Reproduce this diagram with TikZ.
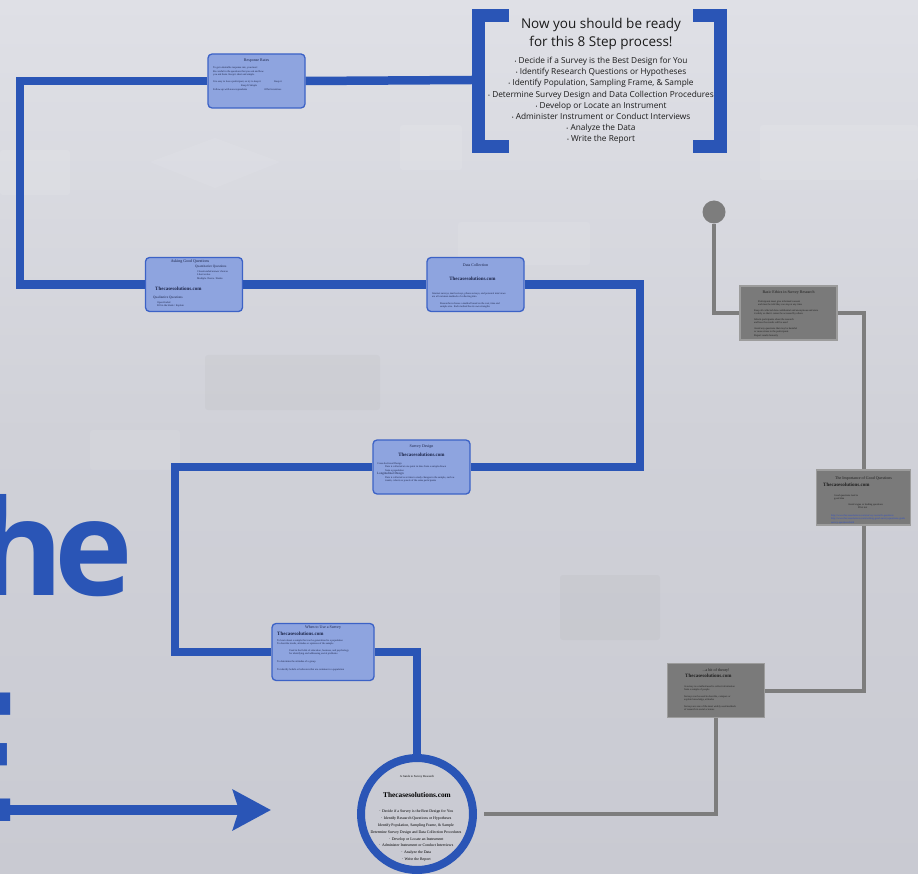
\documentclass[tikz,border=0pt]{standalone}
\usepackage{fontspec}
\setmainfont{Open Sans}
\newfontfamily\bxf{Liberation Serif}
\usetikzlibrary{arrows.meta,backgrounds}
\definecolor{pblue}{HTML}{2A55B6}
\definecolor{bfill}{HTML}{8EA4DF}
\definecolor{bedge}{HTML}{3C62C6}
\definecolor{gline}{HTML}{7D7D7D}
\definecolor{gfill}{HTML}{7A7A7A}
\definecolor{gedge}{HTML}{9C9C9C}
\definecolor{btext}{HTML}{1B2448}
\definecolor{gtext}{HTML}{1E1E1E}
\definecolor{glink}{HTML}{2F4FC8}
\definecolor{bgtop}{HTML}{DFE0E6}
\definecolor{bgmid}{HTML}{D0D1D8}
\definecolor{bgbot}{HTML}{C9CAD2}
\definecolor{steptext}{HTML}{1A1A1A}
\begin{document}
\begin{tikzpicture}[x=1pt,y=-1pt,
  bbox/.style={draw=bedge, line width=1.3pt, fill=bfill, rounded corners=4pt,
    minimum width=97pt, minimum height=54pt, inner sep=0pt},
  gbox/.style={draw=gedge, line width=1.2pt, fill=gfill,
    minimum width=97pt, minimum height=54pt, inner sep=0pt},
  ttl/.style={font=\bxf\fontsize{4}{4.5}\selectfont, text=btext, inner sep=0pt},
  tinytxt/.style={font=\bxf\fontsize{2.6}{3.5}\selectfont, text=btext, inner sep=0pt, align=left},
  sitetxt/.style={font=\bxf\bfseries\fontsize{5}{6}\selectfont, text=btext, inner sep=0pt},
  gttl/.style={ttl, text=gtext},
  gtiny/.style={tinytxt, text=gtext},
  gsite/.style={sitetxt, text=gtext},
  bpath/.style={draw=pblue, line width=8.5pt},
  gpath/.style={draw=gline, line width=4pt},
]
\useasboundingbox (0,0) rectangle (918,874);
\clip (0,0) rectangle (918,874);

% background
\begin{scope}[on background layer]
\shade[top color=bgtop, bottom color=bgbot, middle color=bgmid] (0,0) rectangle (918,874);
\fill[white, opacity=0.09, rounded corners=3pt] (0,150) rectangle (70,195);
\fill[white, opacity=0.09, rounded corners=3pt] (400,125) rectangle (462,170);
\fill[white, opacity=0.09, rounded corners=3pt] (760,125) rectangle (918,180);
\fill[white, opacity=0.08, rounded corners=3pt] (458,222) rectangle (590,265);
\fill[white, opacity=0.08] (215,138) -- (280,162) -- (215,188) -- (150,162) -- cycle;
\fill[black, opacity=0.025, rounded corners=3pt] (205,355) rectangle (380,410);
\fill[black, opacity=0.025, rounded corners=3pt] (560,575) rectangle (660,640);
\fill[white, opacity=0.07, rounded corners=3pt] (90,430) rectangle (180,470);
\end{scope}

% big partial title text
\node[anchor=base west, inner sep=0pt, text=pblue, font=\bfseries\fontsize{133}{133}\selectfont] (bigword) at (-24,595) {h\kern-9pt e};
\node[anchor=base east, inner sep=0pt, text=pblue, font=\bfseries\fontsize{180}{180}\selectfont] (bigletter) at (22,821) {E};

% arrow
\coordinate (arrS) at (-5,810);
\coordinate (arrE) at (271,810);
\draw[pblue, line width=10pt, -{Stealth[length=38pt,width=40pt,inset=6pt]}] (arrS) -- (arrE);

% bracket with steps
\draw[pblue, line width=13pt] (509,15.5) -- (478.5,15.5) -- (478.5,146.5) -- (509,146.5);
\draw[pblue, line width=13pt] (693,15.5) -- (720,15.5) -- (720,146.5) -- (693,146.5);
\coordinate (brk) at (472,80);
\node[align=center, inner sep=0pt, text=steptext, font=\fontsize{13.5}{18}\selectfont] (stT) at (601,34) {Now you should be ready\\for this 8 Step process!};
\node[align=center, inner sep=0pt, text=steptext, font=\fontsize{8.3}{11.15}\selectfont] (stL) at (601,100.5) {%
{\fontsize{5}{5}\selectfont•} Decide if a Survey is the Best Design for You\\
{\fontsize{5}{5}\selectfont•} Identify Research Questions or Hypotheses\\
{\fontsize{5}{5}\selectfont•} Identify Population, Sampling Frame, \& Sample\\
{\fontsize{5}{5}\selectfont•} Determine Survey Design and Data Collection Procedures\\
{\fontsize{5}{5}\selectfont•} Develop or Locate an Instrument\\
{\fontsize{5}{5}\selectfont•} Administer Instrument or Conduct Interviews\\
{\fontsize{5}{5}\selectfont•} Analyze the Data\\
{\fontsize{5}{5}\selectfont•} Write the Report};

% blue boxes
\node[bbox] (rr) at (256.5,81) {};
\node[ttl, anchor=north] (rrT) at ([yshift=-5pt]rr.north) {Response Rates};
\node[tinytxt, anchor=north west] (rrB) at (213,66) {%
To get a desirable response rate, you must:\\[1pt]
Be careful in the questions that you ask and how\\
you ask them. Keep it short and simple.\\[3pt]
It is easy to lose a participant, so try to keep it \hspace{12pt} Keep it\\
\hspace{28pt}Keep It Simple\\[1pt]
Follow-up with non-respondents \hspace{16pt} Offer Incentives};

\node[bbox] (agq) at (194,284.5) {};
\node[ttl, anchor=north] (agqT) at ([xshift=-4pt,yshift=-3pt]agq.north) {Asking Good Questions};
\node[tinytxt, anchor=north west, font=\bxf\fontsize{3.4}{4}\selectfont] (agqQ) at (195,265) {Quantitative Questions};
\node[tinytxt, anchor=north west] (agqQB) at (197,270) {Closed-ended answer choices\\Likert scales\\Multiple Choice / Ranks};
\node[sitetxt, anchor=west] (agqS) at (155,289) {Thecasesolutions.com};
\node[tinytxt, anchor=north west, font=\bxf\fontsize{3.4}{4}\selectfont] (agqL) at (153,296) {Qualitative Questions};
\node[tinytxt, anchor=north west] (agqLB) at (157,301) {Open-Ended\\Fill in the blank / Explain};

\node[bbox] (dc) at (475.5,284.5) {};
\node[ttl, anchor=north] (dcT) at ([yshift=-7pt]dc.north) {Data Collection};
\node[sitetxt, anchor=north] (dcS) at ([xshift=-3pt,yshift=-20pt]dc.north) {Thecasesolutions.com};
\node[tinytxt, anchor=north west] (dcB) at (432,292) {%
Internet surveys, mail surveys, phone surveys, and personal interviews\\
are all common methods of collecting data\\[3pt]
\hspace{8pt}Researchers choose a method based on the cost, time and\\
\hspace{8pt}sample size. Each method has its own strengths};

\node[bbox] (sd) at (421.5,467) {};
\node[ttl, anchor=north] (sdT) at ([yshift=-5pt]sd.north) {Survey Design};
\node[sitetxt, anchor=north] (sdS) at ([yshift=-13pt]sd.north) {Thecasesolutions.com};
\node[tinytxt, anchor=north west] (sdB) at (377,462) {%
Cross-Sectional Design\\
\hspace{8pt}Data is collected at one point in time from a sample drawn\\
\hspace{8pt}from a population\\
{\fontsize{3.2}{4}\selectfont Longitudinal Design}\\
\hspace{8pt}Data is collected over time to study changes in the sample, such as\\
\hspace{8pt}trends, cohorts or panels of the same participants};

\node[bbox, minimum width=102pt, minimum height=57pt] (wus) at (323,652) {};
\node[ttl, anchor=north] (wusT) at ([yshift=-3pt]wus.north) {When to Use a Survey};
\node[sitetxt, anchor=north west] (wusS) at (277,632) {Thecasesolutions.com};
\node[tinytxt, anchor=north west] (wusB) at (277,639) {%
To learn about a sample that can be generalized to a population\\
To describe trends, attitudes or opinions of the sample\\[3pt]
\hspace{12pt}Used in the fields of education, business, and psychology\\
\hspace{12pt}for identifying and addressing social problems\\[4pt]
To determine the attitudes of a group\\[5pt]
To identify beliefs or behaviors that are common in a population};

% circle
\node[circle, draw=pblue, line width=8pt, minimum size=112pt, inner sep=0pt] (circ) at (417,814) {};
\node[tinytxt, font=\bxf\fontsize{3}{4}\selectfont, text=black, anchor=center] (circT) at (417,777) {A Guide to Survey Research};
\node[sitetxt, font=\bxf\bfseries\fontsize{7.3}{8}\selectfont, text=black, anchor=center] (circS) at (417,795) {Thecasesolutions.com};
\node[align=center, inner sep=0pt, text=black, font=\bxf\fontsize{3.9}{6.8}\selectfont, anchor=north] (circL) at (416,810) {%
$\cdot$ Decide if a Survey is the Best Design for You\\
$\cdot$ Identify Research Questions or Hypotheses\\
Identify Population, Sampling Frame, \& Sample\\
Determine Survey Design and Data Collection Procedures\\
$\cdot$ Develop or Locate an Instrument\\
$\cdot$ Administer Instrument or Conduct Interviews\\
$\cdot$ Analyze the Data\\
$\cdot$ Write the Report};

% gray boxes
\node[circle, fill=gline, minimum size=23pt, inner sep=0pt] (dot) at (714,212) {};
\node[gbox] (g1) at (788.5,313) {};
\node[gttl, anchor=north] (g1T) at ([yshift=-5pt]g1.north) {Basic Ethics in Survey Research};
\node[gtiny, anchor=north west] (g1B) at (754,300) {%
\hspace{4pt}Participants must give informed consent\\
\hspace{4pt}and must be told they can stop at any time\\[2pt]
Keep all collected data confidential and anonymous and store\\
it safely so that it cannot be accessed by others\\[2pt]
Inform participants about the research\\
and how the results will be used\\[2pt]
Avoid any questions that may be harmful\\
or cause stress to the participants\\
Report results honestly};

\node[gbox, minimum width=94pt, minimum height=55pt] (g2) at (863.5,497.5) {};
\node[gttl, anchor=north] (g2T) at ([yshift=-7pt]g2.north) {The Importance of Good Questions};
\node[gsite, anchor=north west] (g2S) at (823,483) {Thecasesolutions.com};
\node[gtiny, anchor=north west] (g2B) at (834,494) {%
Good questions lead to\\
good data\\[2pt]
\hspace{14pt}Avoid vague or leading questions\\
\hspace{24pt}Pilot test};
\node[gtiny, text=glink, anchor=north west] (g2L) at (831,514) {%
http://www.thecasesolutions.com/survey-research-questions\\
http://www.thecasesolutions.com/writing-good-survey-questions-guide\\
survey-questions.html};

\node[gbox] (g3) at (716,690.5) {};
\node[gttl, anchor=north] (g3T) at ([yshift=-6pt]g3.north) {...a bit of theory!};
\node[gsite, anchor=north west] (g3S) at (685,674) {Thecasesolutions.com};
\node[gtiny, anchor=north west] (g3B) at (684,685) {%
A survey is a method used to collect information\\
from a sample of people\\[3pt]
Surveys can be used to describe, compare or\\
explain knowledge, attitudes\\[3pt]
Surveys are one of the most widely used methods\\
of research in social sciences};

% blue connectors
\coordinate (k1) at (20,180);
\coordinate (k2) at (640,375);
\coordinate (k3) at (175,560);
\draw[bpath] (rr.east) -- (brk);
\draw[bpath] (rr.west) -| (k1) |- (agq.west);
\draw[bpath] (agq.east) -- (dc.west);
\draw[bpath] (dc.east) -| (k2) |- (sd.east);
\draw[bpath] (sd.west) -| (k3) |- (wus.west);
\draw[bpath] (wus.east) -| (circ.north);

% gray connectors
\draw[gpath] (dot.south) |- (g1.west);
\draw[gpath] (g1.east) -| (g2.north);
\draw[gpath] (g2.south) |- (g3.east);
\draw[gpath, shorten >=7pt] (g3.south) |- (circ.east);
\end{tikzpicture}
\end{document}
